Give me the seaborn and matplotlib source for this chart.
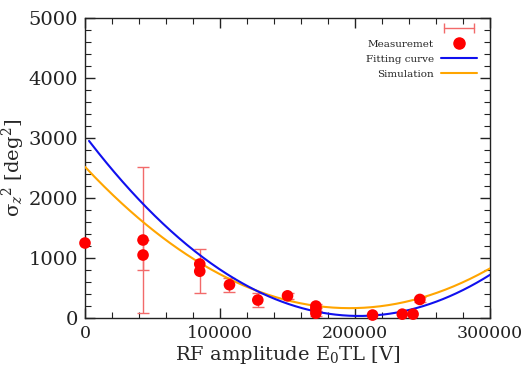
import numpy as np
import pandas as pd
import matplotlib
matplotlib.use("Agg")
import matplotlib.pyplot as plt
import seaborn as sns
from matplotlib.lines import Line2D
from matplotlib.legend_handler import HandlerLine2D
from matplotlib.ticker import MultipleLocator

# Measured bunch length (sigma_z^2) versus RF amplitude
amp_v = [0, 43000, 43000, 85000, 85000, 107000, 128000, 150000,
         171000, 171000, 171000, 213000, 235000, 243000, 248000]
sigma2 = [1250, 1300, 1050, 900, 780, 555, 300, 370,
          200, 150, 80, 50, 65, 65, 310]
sigma2_err = [0, 1220, 250, 0, 370, 120, 120, 50,
              40, 40, 40, 0, 0, 0, 40]

# Quadratic fit parameters: a*(x - x0)^2 + c
fit_a, fit_x0, fit_c = 7.29e-8, 203000.0, 35.0
sim_a, sim_x0, sim_c = 6.13e-8, 196000.0, 165.0
fit_range = (3000, 300000)
sim_range = (0, 300000)

sns.set_theme(style="ticks")
plt.rcParams["font.family"] = ["DejaVu Serif"]
plt.rcParams["mathtext.fontset"] = "dejavuserif"

fig = plt.figure(figsize=(5.23, 3.66), dpi=100)
ax = fig.add_axes([0.1625, 0.131, 0.7745, 0.82])

meas = pd.DataFrame({"amp": amp_v, "sigma2": sigma2, "err": sigma2_err})

xf = np.linspace(*fit_range, 300)
xs = np.linspace(*sim_range, 300)
fit_df = pd.DataFrame({"amp": xf, "val": fit_a * (xf - fit_x0) ** 2 + fit_c})
sim_df = pd.DataFrame({"amp": xs, "val": sim_a * (xs - sim_x0) ** 2 + sim_c})

err_color = "#f26a6a"
has_err = meas[meas["err"] > 0]
ax.errorbar(has_err["amp"], has_err["sigma2"], yerr=has_err["err"],
            fmt="none", ecolor=err_color, elinewidth=1.0, capsize=4,
            capthick=1.0, zorder=2)

sns.lineplot(data=sim_df, x="amp", y="val", ax=ax, color="#ffa500",
             linewidth=1.5, zorder=3)
sns.lineplot(data=fit_df, x="amp", y="val", ax=ax, color="#1010ee",
             linewidth=1.5, zorder=4)
sns.scatterplot(data=meas, x="amp", y="sigma2", ax=ax, color="#ff0000",
                s=70, edgecolor="none", zorder=5, clip_on=False)

ax.set_xlim(0, 300000)
ax.set_ylim(0, 5000)
ax.xaxis.set_major_locator(MultipleLocator(100000))
ax.xaxis.set_minor_locator(MultipleLocator(20000))
ax.yaxis.set_major_locator(MultipleLocator(1000))
ax.yaxis.set_minor_locator(MultipleLocator(200))
ax.tick_params(which="both", direction="in", top=True, right=True,
               colors="#222222", pad=5)
ax.tick_params(axis="y", labelsize=14)
ax.tick_params(axis="x", labelsize=12.5)
ax.tick_params(which="major", length=7, width=1)
ax.tick_params(which="minor", length=4, width=0.8)
for sp in ax.spines.values():
    sp.set_color("#222222")
    sp.set_linewidth(1.0)

ax.set_xlabel(r"RF amplitude E$_0$TL [V]", fontsize=14, labelpad=1.5)
ax.set_ylabel(r"$\mathrm{\sigma}_{z}{}^{2}$ [deg$^{2}$]", fontsize=14,
              labelpad=1)

h_err = Line2D([], [], color=err_color, marker="|", markersize=7,
               linewidth=1.0)
h_meas = Line2D([], [], color="#ff0000", marker="o", markersize=8,
                linestyle="none")
h_fit = Line2D([], [], color="#1010ee", linewidth=1.5)
h_sim = Line2D([], [], color="#ffa500", linewidth=1.5)
leg = ax.legend([h_err, h_meas, h_fit, h_sim],
                [" ", "Measuremet", "Fitting curve", "Simulation"],
                handler_map={h_err: HandlerLine2D(numpoints=2),
                             h_meas: HandlerLine2D(numpoints=1)},
                loc="upper right", bbox_to_anchor=(0.99, 1.01),
                frameon=False, markerfirst=False, fontsize=7.5,
                handlelength=3.4, labelspacing=0.55, handletextpad=0.7)

fig.savefig("out.png", dpi=100)
